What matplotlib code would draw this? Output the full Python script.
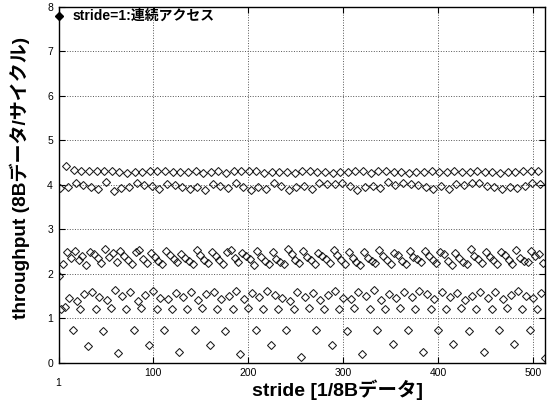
import numpy as np
import matplotlib
matplotlib.use('Agg')
import matplotlib.pyplot as plt

plt.rcParams['font.family'] = ['Liberation Sans', 'Noto Sans CJK JP', 'DejaVu Sans']

# stride 1..512, throughput [8Bデータ/サイクル], 1 row = 32 strides, None = no point
strides = np.arange(1, 513)
throughput = [
    7.80, 1.95, 3.92, 1.22, None, 2.22, None, 1.25, 4.42, 2.48, 3.96, 1.46, None, 2.36, None, 0.73,
    4.33, 2.52, 4.05, 1.39, None, 2.30, None, 1.21, 4.31, 2.41, 4.00, 1.55, None, 2.20, None, 0.38,
    4.30, 2.50, 3.95, 1.60, None, 2.44, None, 1.20, 4.32, 2.35, 3.90, 1.48, None, 2.24, None, 0.72,
    4.30, 2.55, 4.06, 1.42, None, 2.38, None, 1.23, 4.31, 2.46, 3.87, 1.63, None, 2.27, None, 0.21,
    4.29, 2.52, 3.93, 1.50, None, 2.40, None, 1.21, 4.27, 2.31, 3.96, 1.58, None, 2.21, None, 0.73,
    4.28, 2.49, 4.05, 1.40, None, 2.53, None, 1.24, 4.29, 2.34, 4.00, 1.52, None, 2.25, None, 0.40,
    4.31, 2.47, 3.98, 1.62, None, 2.37, None, 1.20, 4.30, 2.28, 3.91, 1.45, None, 2.23, None, 0.74,
    4.32, 2.51, 4.02, 1.43, None, 2.42, None, 1.22, 4.28, 2.33, 3.99, 1.57, None, 2.26, None, 0.24,
    4.28, 2.45, 3.94, 1.47, None, 2.36, None, 1.21, 4.29, 2.29, 3.90, 1.60, None, 2.22, None, 0.73,
    4.30, 2.53, 3.96, 1.41, None, 2.43, None, 1.23, 4.27, 2.32, 3.89, 1.54, None, 2.24, None, 0.40,
    4.29, 2.50, 4.02, 1.58, None, 2.39, None, 1.22, 4.31, 2.30, 3.97, 1.44, None, 2.21, None, 0.72,
    4.27, 2.48, 3.93, 1.49, None, 2.54, None, 1.20, 4.32, 2.35, 4.03, 1.62, None, 2.27, None, 0.20,
    4.30, 2.46, 3.96, 1.43, None, 2.41, None, 1.24, 4.31, 2.33, 3.88, 1.56, None, 2.20, None, 0.73,
    4.31, 2.52, 3.95, 1.47, None, 2.37, None, 1.21, 4.26, 2.28, 3.91, 1.61, None, 2.23, None, 0.40,
    4.28, 2.49, 4.03, 1.52, None, 2.34, None, 1.20, 4.29, 2.26, 3.98, 1.45, None, 2.22, None, 0.74,
    4.28, 2.55, 3.89, 1.40, None, 2.44, None, 1.22, 4.27, 2.31, 3.94, 1.59, None, 2.25, None, 0.12,
    4.31, 2.51, 3.97, 1.48, None, 2.38, None, 1.23, 4.30, 2.30, 3.90, 1.57, None, 2.21, None, 0.73,
    4.29, 2.47, 4.03, 1.42, None, 2.40, None, 1.21, 4.28, 2.34, 4.01, 1.53, None, 2.24, None, 0.40,
    4.27, 2.53, 4.01, 1.61, None, 2.42, None, 1.20, 4.28, 2.32, 4.05, 1.46, None, 2.23, None, 0.72,
    4.28, 2.50, 3.98, 1.44, None, 2.36, None, 1.24, 4.31, 2.27, 3.88, 1.58, None, 2.20, None, 0.20,
    4.30, 2.48, 3.94, 1.50, None, 2.35, None, 1.22, 4.27, 2.29, 3.97, 1.63, None, 2.25, None, 0.73,
    4.32, 2.54, 3.93, 1.41, None, 2.39, None, 1.21, 4.30, 2.31, 4.06, 1.55, None, 2.22, None, 0.42,
    4.29, 2.46, 4.00, 1.45, None, 2.43, None, 1.23, 4.28, 2.28, 4.04, 1.59, None, 2.21, None, 0.74,
    4.27, 2.51, 4.02, 1.48, None, 2.37, None, 1.20, 4.29, 2.33, 3.99, 1.62, None, 2.26, None, 0.25,
    4.28, 2.52, 3.95, 1.54, None, 2.40, None, 1.21, 4.32, 2.31, 3.91, 1.43, None, 2.24, None, 0.73,
    4.29, 2.49, 3.97, 1.60, None, 2.44, None, 1.22, 4.28, 2.29, 3.90, 1.47, None, 2.20, None, 0.42,
    4.30, 2.47, 4.02, 1.57, None, 2.36, None, 1.24, 4.29, 2.27, 4.00, 1.42, None, 2.23, None, 0.72,
    4.28, 2.55, 4.05, 1.51, None, 2.41, None, 1.21, 4.30, 2.34, 4.03, 1.60, None, 2.25, None, 0.24,
    4.29, 2.50, 3.98, 1.46, None, 2.38, None, 1.20, 4.28, 2.30, 3.94, 1.58, None, 2.22, None, 0.73,
    4.27, 2.48, 3.90, 1.44, None, 2.42, None, 1.23, 4.28, 2.32, 3.96, 1.53, None, 2.21, None, 0.42,
    4.28, 2.53, 3.93, 1.61, None, 2.35, None, 1.22, 4.31, 2.28, 3.97, 1.49, None, 2.26, None, 0.74,
    4.30, 2.51, 4.03, 1.45, None, 2.39, None, 1.21, 4.31, 2.44, 4.02, 1.56, None, 2.24, None, 0.10,
]
note = 'stride=1:連続アクセス'
xticks = [1, 100, 200, 300, 400, 500]
yticks = [0, 1, 2, 3, 4, 5, 6, 7, 8]

tp = np.array(throughput, dtype=float)

fig = plt.figure(figsize=(5.47, 4.0), dpi=100)
ax = fig.add_axes([0.107, 0.093, 0.889, 0.89])

ax.plot(strides[1:], tp[1:], linestyle='none', marker='D', ms=4,
        mfc='none', mec='#1a1a1a', mew=0.75)
ax.plot(strides[:1], tp[:1], linestyle='none', marker='D', ms=4.5,
        mfc='black', mec='black', clip_on=False)
ax.text(16, tp[0], note, fontsize=10, fontweight='bold', va='center', ha='left')

ax.set_xlim(1, 512)
ax.set_ylim(0, 8)
ax.set_xticks(xticks)
ax.set_yticks(yticks)
ax.tick_params(direction='in', top=True, right=True, length=4, width=0.8,
               labelsize=7.5, pad=4)
ax.xaxis.get_major_ticks()[0].set_pad(11)
ax.grid(True, linestyle=':', color='#555555', linewidth=0.7)
for s in ax.spines.values():
    s.set_linewidth(1.0)

ax.set_xlabel('stride [1/8Bデータ]', fontsize=14, fontweight='bold')
ax.xaxis.set_label_coords(0.573, -0.047)
ax.set_ylabel('throughput (8Bデータ/サイクル)', fontsize=13.7, fontweight='bold')
ax.yaxis.set_label_coords(-0.058, 0.52)

fig.savefig('out.png', dpi=100)
